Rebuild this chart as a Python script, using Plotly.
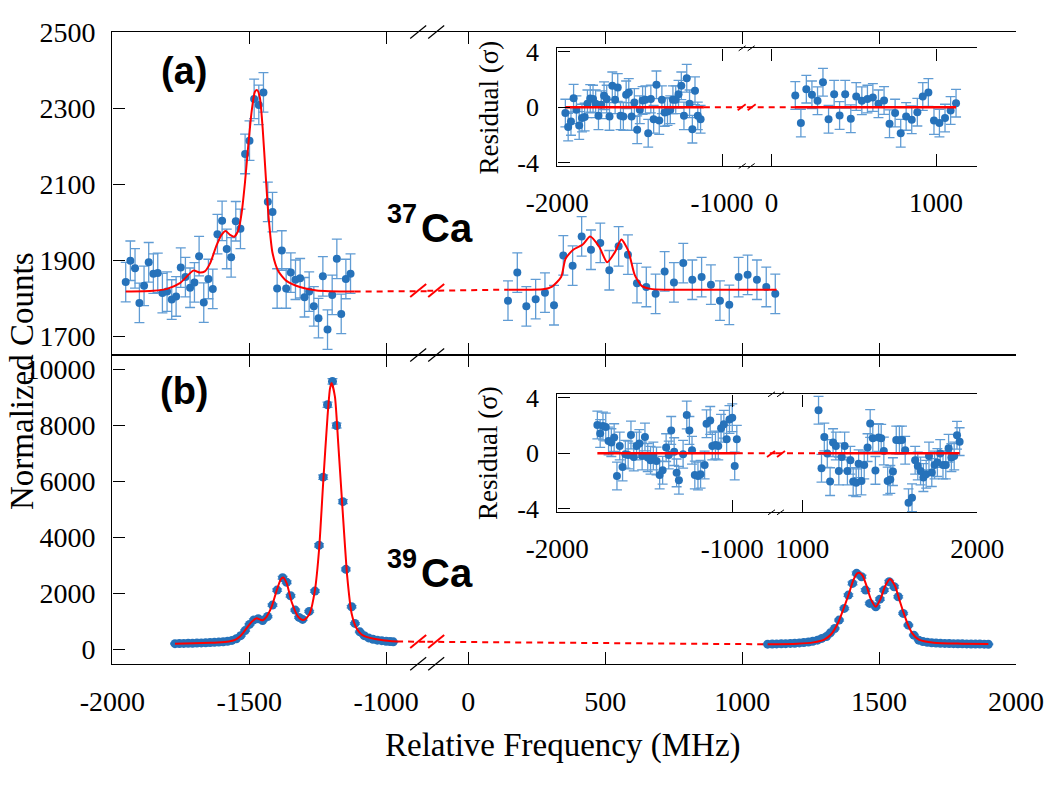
import plotly.graph_objects as go

W, H = 1050, 788

# ------------------------------------------------------------------ data
# (a) 37Ca, left group
a_left_x = [-1951, -1934, -1917, -1901, -1884, -1867, -1850, -1834, -1817, -1800,
            -1783, -1767, -1750, -1733, -1716, -1700, -1683, -1666, -1649, -1633,
            -1616, -1599, -1582, -1566, -1549, -1532, -1515, -1499, -1482, -1465,
            -1448, -1432, -1415, -1398, -1381, -1365, -1348, -1331, -1314, -1298,
            -1281, -1264, -1247, -1231, -1214, -1197, -1180, -1164, -1147, -1130]
a_left_y = [1842, 1898, 1878, 1787, 1832, 1894, 1864, 1866, 1813, 1817,
            1796, 1804, 1880, 1855, 1827, 1841, 1910, 1788, 1850, 1824,
            1968, 2003, 1929, 1907, 2002, 1982, 2179, 2214, 2324, 2308,
            2341, 2053, 2026, 1825, 1925, 1825, 1867, 1848, 1852, 1802,
            1817, 1778, 1747, 1857, 1717, 1808, 1903, 1758, 1850, 1864]
# (a) right group
a_right_x = [145, 179, 212, 246, 280, 313, 347, 381, 414, 448, 482, 515, 549, 583, 616,
             650, 684, 717, 751, 785, 818, 852, 886, 919, 953, 987, 1020, 1054, 1088, 1121]
a_right_y = [1793, 1867, 1778, 1797, 1814, 1781, 1912, 1885, 1962, 1927, 1945, 1873, 1936, 1914, 1839,
             1829, 1811, 1870, 1841, 1892, 1848, 1855, 1835, 1793, 1782, 1855, 1861, 1848, 1829, 1811]
a_err = 52

# (a) fit
fa_left_x = [-1951, -1850, -1800, -1753, -1704, -1680, -1662, -1643, -1619, -1601, -1586, -1570,
             -1555, -1540, -1528, -1516, -1504, -1491, -1479, -1471, -1461, -1451, -1440, -1429,
             -1415, -1394, -1364, -1315, -1254, -1115]
fa_left_y = [1817, 1819, 1824, 1839, 1872, 1867, 1870, 1891, 1939, 1966, 1976, 1966,
             1961, 1978, 2022, 2100, 2197, 2292, 2343, 2347, 2327, 2248, 2125, 2011,
             1919, 1871, 1845, 1829, 1820, 1817]
fa_right_x = [147, 273, 306, 339, 355, 383, 417, 445, 478, 507, 535, 559, 584, 608, 633, 666, 715, 1126]
fa_right_y = [1822, 1823, 1830, 1855, 1903, 1927, 1940, 1962, 1935, 1894, 1920, 1954, 1925, 1860, 1832,
              1824, 1822, 1822]
da_left_x = [-1115, -850]
da_left_y = [1817, 1818]
da_right_x = [-150, 147]
da_right_y = [1819, 1822]

# (b) 39Ca, left group
b_left_x = [-1771, -1755, -1739, -1723, -1707, -1691, -1675, -1659, -1643, -1627,
            -1611, -1595, -1579, -1563, -1547, -1531, -1515, -1499, -1483, -1467,
            -1451, -1433, -1415, -1398, -1378, -1363, -1349, -1332, -1318, -1305,
            -1281, -1260, -1245, -1230, -1214, -1196, -1181, -1158, -1147, -1126,
            -1114, -1096, -1080, -1064, -1048, -1032, -1016, -1000, -986, -974]
b_left_y = [215, 218, 222, 226, 230, 235, 240, 246, 252, 260,
            270, 282, 300, 330, 390, 500, 680, 900, 1060, 1100,
            1040, 1180, 1588, 2123, 2563, 2400, 1920, 1410, 1150, 1078,
            1363, 2088, 3719, 6146, 8726, 9558, 7987, 5275, 2862, 1528,
            935, 635, 500, 420, 370, 340, 320, 300, 290, 280]
b_left_err = [15, 15, 15, 15, 15, 15, 15, 16, 16, 16,
              16, 17, 17, 18, 20, 22, 26, 30, 33, 33,
              32, 34, 40, 46, 51, 49, 44, 38, 34, 33,
              37, 46, 61, 78, 93, 98, 89, 73, 53, 39,
              31, 25, 22, 20, 19, 18, 18, 17, 17, 17]
# (b) right group
b_right_x = [1093, 1110, 1126, 1143, 1159, 1176, 1192, 1209, 1225, 1242,
             1258, 1275, 1291, 1308, 1322, 1338, 1354, 1373, 1388, 1403,
             1418, 1436, 1451, 1466, 1488, 1503, 1518, 1537, 1555, 1570,
             1588, 1607, 1627, 1645, 1660, 1676, 1692, 1708, 1724, 1740,
             1756, 1772, 1788, 1804, 1820, 1836, 1852, 1868, 1884, 1899]
b_right_y = [196, 200, 205, 210, 215, 222, 230, 240, 255, 275,
             300, 340, 400, 470, 600, 756, 1053, 1469, 1945, 2362,
             2719, 2600, 2124, 1648, 1529, 1800, 2124, 2420, 2243, 1885,
             1291, 874, 517, 339, 290, 260, 245, 235, 228, 222,
             218, 214, 210, 207, 204, 202, 200, 198, 196, 195]
b_right_err = [14, 14, 14, 14, 15, 15, 15, 15, 16, 17,
               17, 18, 20, 22, 24, 27, 32, 38, 44, 49,
               52, 51, 46, 41, 39, 42, 46, 49, 47, 43,
               36, 30, 23, 18, 17, 16, 16, 15, 15, 15,
               15, 15, 14, 14, 14, 14, 14, 14, 14, 14]

# (b) fit
fb_left_x = [-1771, -1700, -1640, -1600, -1570, -1550, -1535, -1522, -1505, -1491, -1473, -1460,
             -1450, -1437, -1418, -1400, -1385, -1376, -1363, -1345, -1321, -1305, -1296, -1279,
             -1260, -1245, -1230, -1214, -1205, -1199, -1187, -1175, -1159, -1142, -1126, -1108,
             -1090, -1072, -1040, -1011, -960]
fb_left_y = [215, 228, 248, 268, 300, 360, 460, 600, 820, 990, 1120, 1070,
             1050, 1170, 1530, 2100, 2500, 2570, 2360, 1700, 1170, 1060, 1077, 1290,
             2120, 3550, 5930, 8310, 9300, 9500, 9020, 7360, 4980, 2600, 1290, 760,
             540, 457, 380, 339, 290]
fb_right_x = [1093, 1200, 1260, 1300, 1325, 1350, 1370, 1390, 1405, 1418, 1428, 1440, 1455, 1470,
              1488, 1505, 1522, 1540, 1558, 1575, 1590, 1605, 1620, 1645, 1700, 1800, 1899]
fb_right_y = [192, 210, 260, 360, 550, 950, 1450, 2000, 2450, 2700, 2740, 2640, 2250, 1800,
              1530, 1800, 2260, 2520, 2280, 1750, 1300, 900, 600, 360, 250, 215, 200]
db_left_x = [-960, -850]
db_left_y = [290, 282]
db_right_x = [-150, 1093]
db_right_y = [282, 192]

# residuals (sigma)
ra_left = [-0.43, -1.44, -1.03, 0.65, -0.19, -1.32, -0.79, -0.72, 0.24, 0.63,
           0.58, 0.24, -0.63, 0.17, 0.82, 0.58, -0.67, 1.54, 0.53, 1.42,
           -0.63, -0.67, 0.89, 1.06, -0.67, 0.34, -1.63, -0.19, 0.48, 0.53,
           -1.88, 0.58, -0.87, 1.61, -0.96, 0.53, -0.38, -0.31, -0.19, 0.53,
           0.53, 0.94, 1.54, -0.63, 2.09, 0.24, -1.59, 1.18, -0.63, -0.87]
ra_right = [0.84, -1.15, 1.30, 0.89, 0.46, 1.80, -0.87, 0.94, -0.60, 0.94,
            -0.84, 0.77, 0.46, 0.58, 0.70, 0.24, 0.48, -1.20, -0.43, -1.88,
            -0.67, -0.91, -0.36, 0.77, 1.06, -0.96, -1.15, -0.79, -0.24, 0.29]
rb_left = [2.04, 1.42, 1.97, 1.90, 0.89, 0.77, 1.13, -1.63, 0.53, -0.98,
           -0.07, -0.12, 1.32, -0.26, 0.53, 0.70, -0.19, 1.17, -0.31, -0.50,
           -0.19, -0.55, -1.56, -1.22, 0.41, -0.12, 1.65, 0.12, -1.41, -1.94,
           -0.07, 2.76, 1.65, 0.22, -1.56, -1.63, -1.51, -0.84, 2.13, 2.37,
           0.53, 0.60, 0.53, 1.80, 2.09, 1.01, 2.44, 2.56, -0.91, 1.01]
rb_right = [3.10, -1.08, 1.18, -0.02, -2.04, 0.77, 0.53, -1.27, -0.26, 0.53,
            -1.27, -0.50, -2.04, -2.12, -0.75, -2.00, -0.84, 0.41, 2.14, 1.08,
            -1.23, 1.13, 1.08, 0.17, -2.00, -1.88, -1.32, 0.96, 0.94, 0.96,
            0.22, -3.56, -3.20, -0.50, -0.91, -1.27, -1.75, -1.51, -0.19, -1.39,
            -0.84, -0.67, -0.02, -0.84, -0.84, 0.36, -0.31, -0.19, 1.30, 0.84]
r_err = 1.0
# residual zero lines (solid over data span, dashed across break)
za_solid_left_x = [-1951, -1110]
za_dash_left_x = [-1110, -850]
za_dash_right_x = [-150, 143]
za_solid_right_x = [143, 1121]
zb_solid_left_x = [-1771, -974]
zb_dash_left_x = [-974, -750]
zb_dash_right_x = [850, 1091]
zb_solid_right_x = [1091, 1899]
zero_y = [0, 0]

# ticks
main_x_left_ticks = [-2000, -1500, -1000]
main_x_right_ticks = [0, 500, 1000, 1500, 2000]
a_y_ticks = [1700, 1900, 2100, 2300, 2500]
b_y_ticks = [0, 2000, 4000, 6000, 8000, 10000]
ia_x_left_ticks = [-2000, -1000]
ia_x_right_ticks = [0, 1000]
ib_x_left_ticks = [-2000, -1000]
ib_x_right_ticks = [1000, 2000]
r_y_ticks = [-4, 0, 4]

# ------------------------------------------------------------------ style / layout
MARK = "rgb(38,114,186)"
ERRC = "rgb(96,156,212)"
RED = "rgb(255,0,0)"
SERIF = "Liberation Serif"
SANS = "Liberation Sans"


def px(x):
    return x / W


def py(y):
    return 1 - y / H


# frames (pixels)
MX0, MXB, MX1 = 112.3, 427.2, 1016.0
A_Y0, A_Y1 = 32.0, 355.0
B_Y0, B_Y1 = 355.0, 663.7
IX0, IX1 = 557.3, 977.3
IA_XB, IB_XB = 746.7, 776.0
IA_Y0, IA_Y1 = 48.3, 166.0
IB_Y0, IB_Y1 = 394.3, 512.3


def xax(dom, rng, anchor, ticks, labels, tlen=12, fs=28, standoff=12):
    d = dict(domain=dom, range=rng, anchor=anchor, tickmode="array", tickvals=ticks,
             showticklabels=labels,
             ticks="inside", ticklen=tlen, tickwidth=1.2, tickcolor="black",
             showline=True, linecolor="black", linewidth=1.4, mirror="ticks",
             showgrid=False, zeroline=False, automargin=False,
             tickfont=dict(family=SERIF, size=fs, color="black"))
    if labels:
        d["ticktext"] = [str(v) for v in ticks]
        d["ticklabelstandoff"] = standoff
    return d


def yax(dom, rng, anchor, ticks, labels=True, side="left", tlen=12, fs=28, standoff=10):
    d = dict(domain=dom, range=rng, anchor=anchor, tickmode="array", tickvals=ticks,
             showticklabels=labels, side=side,
             ticks="inside", ticklen=tlen, tickwidth=1.2, tickcolor="black",
             showline=True, linecolor="black", linewidth=1.4, mirror=False,
             showgrid=False, zeroline=False, automargin=False,
             tickfont=dict(family=SERIF, size=fs, color="black"))
    if labels:
        d["ticktext"] = [str(v) for v in ticks]
        d["ticklabelstandoff"] = standoff
    return d


A_RANGE = [1650, 2500]
B_RANGE = [-500, 10500]
R_RANGE = [-4.25, 4.25]
mx_left_dom = [px(MX0), px(MXB)]
mx_right_dom = [px(MXB), px(MX1)]
ix_a_left = [px(IX0), px(IA_XB)]
ix_a_right = [px(IA_XB), px(IX1)]
ix_b_left = [px(IX0), px(IB_XB)]
ix_b_right = [px(IB_XB), px(IX1)]
a_dom = [py(A_Y1), py(A_Y0)]
b_dom = [py(B_Y1), py(B_Y0)]
ia_dom = [py(IA_Y1), py(IA_Y0)]
ib_dom = [py(IB_Y1), py(IB_Y0)]

layout = dict(
    template="none",
    width=W, height=H, margin=dict(l=0, r=0, t=0, b=0, pad=0), autosize=False,
    paper_bgcolor="white", plot_bgcolor="rgba(0,0,0,0)", showlegend=False,
    xaxis=xax(mx_left_dom, [-2000, -850], "y", main_x_left_ticks, False),
    xaxis2=xax(mx_right_dom, [-150, 2000], "y", main_x_right_ticks, False),
    yaxis=yax(a_dom, A_RANGE, "x", a_y_ticks),
    yaxis5=yax(a_dom, A_RANGE, "x2", a_y_ticks, labels=False, side="right"),
    xaxis3=xax(mx_left_dom, [-2000, -850], "y2", main_x_left_ticks, True),
    xaxis4=xax(mx_right_dom, [-150, 2000], "y2", main_x_right_ticks, True),
    yaxis2=yax(b_dom, B_RANGE, "x3", b_y_ticks),
    yaxis6=yax(b_dom, B_RANGE, "x4", b_y_ticks, labels=False, side="right"),
    xaxis5=xax(ix_a_left, [-2000, -850], "y3", ia_x_left_ticks, True, fs=27),
    xaxis6=xax(ix_a_right, [-150, 1250], "y3", ia_x_right_ticks, True, fs=27),
    yaxis3=yax(ia_dom, R_RANGE, "x5", r_y_ticks, fs=26, standoff=12),
    yaxis7=yax(ia_dom, R_RANGE, "x6", r_y_ticks, labels=False, side="right"),
    xaxis7=xax(ix_b_left, [-2000, -750], "y4", ib_x_left_ticks, True, fs=27),
    xaxis8=xax(ix_b_right, [850, 2000], "y4", ib_x_right_ticks, True, fs=27),
    yaxis4=yax(ib_dom, R_RANGE, "x7", r_y_ticks, fs=26, standoff=12),
    yaxis8=yax(ib_dom, R_RANGE, "x8", r_y_ticks, labels=False, side="right"),
)

fig = go.Figure(layout=layout)


def pts(x, y, xa, ya, err=None, errarr=None, size=8):
    if errarr is not None:
        ey = dict(type="data", array=errarr, visible=True, color=ERRC, thickness=1.3, width=5)
    else:
        ey = dict(type="constant", value=err, visible=True, color=ERRC, thickness=1.3, width=5)
    fig.add_trace(go.Scatter(x=x, y=y, xaxis=xa, yaxis=ya, mode="markers",
                             marker=dict(color=MARK, size=size, line=dict(width=0)),
                             error_y=ey))


def line(x, y, xa, ya, dash=None, spline=False, width=2):
    fig.add_trace(go.Scatter(x=x, y=y, xaxis=xa, yaxis=ya, mode="lines",
                             line=dict(color=RED, width=width,
                                       dash=dash if dash else "solid",
                                       shape="spline" if spline else "linear",
                                       smoothing=0.6)))


# panel (a)
pts(a_left_x, a_left_y, "x", "y", err=a_err)
pts(a_right_x, a_right_y, "x2", "y", err=a_err)
line(fa_left_x, fa_left_y, "x", "y", spline=True)
line(fa_right_x, fa_right_y, "x2", "y", spline=True)
line(da_left_x, da_left_y, "x", "y", dash="6px,5px")
line(da_right_x, da_right_y, "x2", "y", dash="6px,5px")
# panel (b)
pts(b_left_x, b_left_y, "x3", "y2", errarr=b_left_err, size=9)
pts(b_right_x, b_right_y, "x4", "y2", errarr=b_right_err, size=9)
line(fb_left_x, fb_left_y, "x3", "y2", spline=True)
line(fb_right_x, fb_right_y, "x4", "y2", spline=True)
line(db_left_x, db_left_y, "x3", "y2", dash="6px,5px")
line(db_right_x, db_right_y, "x4", "y2", dash="6px,5px")
# inset (a)
pts(a_left_x, ra_left, "x5", "y3", err=r_err)
pts(a_right_x, ra_right, "x6", "y3", err=r_err)
line(za_solid_left_x, zero_y, "x5", "y3", width=2.5)
line(za_dash_left_x, zero_y, "x5", "y3", dash="6px,5px")
line(za_dash_right_x, zero_y, "x6", "y3", dash="6px,5px")
line(za_solid_right_x, zero_y, "x6", "y3", width=2.5)
# inset (b)
pts(b_left_x, rb_left, "x7", "y4", err=r_err)
pts(b_right_x, rb_right, "x8", "y4", err=r_err)
line(zb_solid_left_x, zero_y, "x7", "y4", width=2.5)
line(zb_dash_left_x, zero_y, "x7", "y4", dash="6px,5px")
line(zb_dash_right_x, zero_y, "x8", "y4", dash="6px,5px")
line(zb_solid_right_x, zero_y, "x8", "y4", width=2.5)

# ------------------------------------------------------------------ break marks
shapes = []


def slash_pair(xc, yc, w, h, gap, color, lw):
    for dx in (-gap / 2, gap / 2):
        cx = xc + dx
        shapes.append(dict(type="line", xref="paper", yref="paper",
                           x0=px(cx - w / 2), y0=py(yc + h / 2),
                           x1=px(cx + w / 2), y1=py(yc - h / 2),
                           line=dict(color=color, width=lw)))


for yc in (A_Y0, A_Y1, B_Y1):
    slash_pair(MXB, yc, 16, 13, 18, "black", 1.2)
slash_pair(MXB, 290.5, 16, 13, 18, RED, 2)
slash_pair(MXB, 641.5, 16, 13, 18, RED, 2)
for yc in (IA_Y0, IA_Y1):
    slash_pair(IA_XB, yc, 7, 5, 9, "black", 1)
slash_pair(IA_XB, 107.3, 8, 6, 10, RED, 1.8)
for yc in (IB_Y0, IB_Y1):
    slash_pair(IB_XB, yc, 7, 5, 9, "black", 1)
slash_pair(IB_XB, 454.0, 8, 6, 10, RED, 1.8)
fig.update_layout(shapes=shapes)

# ------------------------------------------------------------------ texts
ann = []


def txt(s, x, y, size, family=SERIF, angle=0, xanchor="center", yanchor="middle",
        weight="normal"):
    ann.append(dict(text=s, x=px(x), y=py(y), xref="paper", yref="paper", showarrow=False,
                    textangle=angle, xanchor=xanchor, yanchor=yanchor,
                    font=dict(family=family, size=size, color="black", weight=weight)))


txt("Normalized Counts", 22, 381, 33, angle=-90)
txt("Relative Frequency (MHz)", 563, 745, 33)
txt("Residual (σ)", 488, 107.5, 27, angle=-90)
txt("Residual (σ)", 488, 453, 27, angle=-90)
txt("(a)", 183.5, 70.5, 38, family=SANS, weight="bold")
txt("(b)", 184.5, 391.5, 38, family=SANS, weight="bold")
# isotope labels: mass number (superscript) + element symbol
txt("37", 419, 214, 27, family=SANS, xanchor="right", weight="bold")
txt("Ca", 419, 227.5, 40, family=SANS, xanchor="left", weight="bold")
txt("39", 419, 558.5, 27, family=SANS, xanchor="right", weight="bold")
txt("Ca", 419, 572.5, 40, family=SANS, xanchor="left", weight="bold")
fig.update_layout(annotations=ann)

fig.write_html("out.html")
